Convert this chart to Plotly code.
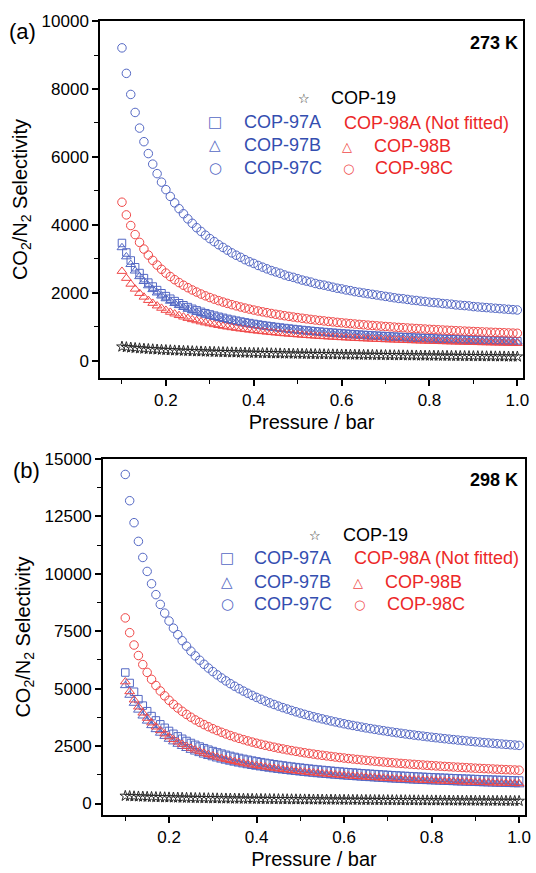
import plotly.graph_objects as go

# pressure grid (bar)
pressure = [0.10, 0.11, 0.12, 0.13, 0.14, 0.15, 0.16, 0.17, 0.18, 0.19,
            0.20, 0.21, 0.22, 0.23, 0.24, 0.25, 0.26, 0.27, 0.28, 0.29,
            0.30, 0.31, 0.32, 0.33, 0.34, 0.35, 0.36, 0.37, 0.38, 0.39,
            0.40, 0.41, 0.42, 0.43, 0.44, 0.45, 0.46, 0.47, 0.48, 0.49,
            0.50, 0.51, 0.52, 0.53, 0.54, 0.55, 0.56, 0.57, 0.58, 0.59,
            0.60, 0.61, 0.62, 0.63, 0.64, 0.65, 0.66, 0.67, 0.68, 0.69,
            0.70, 0.71, 0.72, 0.73, 0.74, 0.75, 0.76, 0.77, 0.78, 0.79,
            0.80, 0.81, 0.82, 0.83, 0.84, 0.85, 0.86, 0.87, 0.88, 0.89,
            0.90, 0.91, 0.92, 0.93, 0.94, 0.95, 0.96, 0.97, 0.98, 0.99,
            1.00]

# ---- 273 K ----
cop19_273 = [420, 405, 392, 380, 369, 359, 350, 342, 334, 327,
             320, 314, 308, 302, 297, 292, 287, 282, 278, 274,
             270, 266, 262, 258, 255, 252, 248, 245, 242, 239,
             236, 233, 230, 228, 225, 222, 220, 217, 215, 212,
             210, 208, 205, 203, 201, 199, 197, 195, 193, 191,
             189, 187, 185, 183, 181, 179, 178, 176, 174, 172,
             171, 169, 167, 166, 164, 162, 161, 159, 158, 156,
             155, 153, 152, 150, 149, 147, 146, 144, 143, 141,
             140, 139, 137, 136, 135, 133, 132, 131, 129, 128,
             127]
cop97a_273 = [3471, 3191, 2956, 2757, 2586, 2437, 2305, 2189, 2085, 1992,
              1908, 1831, 1762, 1698, 1639, 1585, 1535, 1489, 1446, 1405,
              1368, 1333, 1300, 1269, 1239, 1211, 1185, 1160, 1136, 1114,
              1092, 1072, 1053, 1034, 1017, 999, 983, 968, 953, 939,
              925, 911, 898, 886, 874, 863, 852, 841, 831, 821,
              811, 802, 793, 784, 775, 767, 759, 751, 744, 737,
              729, 723, 716, 709, 703, 696, 690, 684, 679, 673,
              667, 662, 657, 652, 647, 642, 637, 633, 628, 624,
              619, 615, 610, 607, 603, 598, 595, 591, 587, 584,
              580]
cop97b_273 = [3336, 3067, 2841, 2650, 2485, 2342, 2216, 2104, 2004, 1915,
              1834, 1761, 1694, 1633, 1577, 1525, 1477, 1433, 1391, 1352,
              1316, 1283, 1251, 1221, 1193, 1166, 1141, 1117, 1094, 1072,
              1052, 1032, 1014, 996, 979, 962, 947, 932, 918, 904,
              891, 878, 866, 854, 842, 831, 821, 811, 801, 791,
              782, 773, 764, 756, 748, 740, 732, 725, 717, 710,
              703, 697, 690, 684, 678, 672, 666, 660, 655, 649,
              644, 639, 634, 629, 624, 619, 615, 610, 606, 602,
              597, 593, 589, 586, 582, 578, 574, 570, 567, 564,
              560]
cop97c_273 = [9210, 8460, 7840, 7310, 6850, 6450, 6100, 5790, 5510, 5260,
              5040, 4840, 4650, 4480, 4330, 4180, 4050, 3920, 3810, 3700,
              3600, 3510, 3420, 3340, 3260, 3180, 3110, 3050, 2980, 2920,
              2870, 2810, 2760, 2710, 2660, 2620, 2580, 2530, 2490, 2460,
              2420, 2380, 2350, 2320, 2280, 2250, 2230, 2200, 2170, 2140,
              2120, 2090, 2070, 2040, 2020, 2000, 1980, 1960, 1940, 1920,
              1900, 1880, 1860, 1840, 1830, 1810, 1790, 1780, 1760, 1750,
              1730, 1720, 1710, 1690, 1680, 1670, 1650, 1640, 1630, 1620,
              1600, 1590, 1580, 1570, 1560, 1550, 1540, 1530, 1520, 1510,
              1500]
cop98b_273 = [2640, 2435, 2263, 2117, 1991, 1882, 1785, 1700, 1623, 1555,
              1494, 1437, 1387, 1340, 1297, 1257, 1220, 1187, 1155, 1125,
              1098, 1072, 1048, 1025, 1003, 983, 964, 945, 928, 911,
              896, 881, 867, 853, 840, 827, 816, 804, 793, 783,
              773, 763, 753, 744, 736, 727, 719, 711, 704, 697,
              689, 683, 676, 670, 663, 657, 651, 646, 640, 635,
              629, 625, 620, 615, 610, 605, 601, 596, 592, 588,
              584, 580, 576, 573, 569, 565, 562, 559, 555, 552,
              549, 546, 542, 540, 537, 533, 531, 528, 525, 523,
              520]
cop98c_273 = [4670, 4297, 3984, 3718, 3489, 3291, 3115, 2960, 2821, 2697,
              2585, 2483, 2391, 2306, 2228, 2156, 2089, 2027, 1969, 1916,
              1866, 1819, 1775, 1733, 1694, 1657, 1622, 1588, 1557, 1527,
              1498, 1471, 1445, 1421, 1397, 1374, 1353, 1332, 1312, 1293,
              1275, 1257, 1240, 1223, 1207, 1192, 1178, 1163, 1150, 1136,
              1123, 1111, 1099, 1087, 1076, 1065, 1054, 1044, 1034, 1024,
              1014, 1005, 996, 987, 979, 970, 962, 954, 947, 939,
              932, 925, 918, 911, 904, 898, 891, 885, 879, 873,
              867, 862, 856, 851, 845, 840, 835, 830, 825, 820,
              815]

# ---- 298 K ----
cop19_298 = [330, 320, 311, 303, 296, 289, 283, 277, 272, 267,
             262, 257, 253, 249, 245, 241, 237, 234, 230, 227,
             224, 221, 218, 215, 212, 210, 207, 205, 202, 200,
             197, 195, 193, 191, 189, 187, 185, 183, 181, 179,
             177, 175, 173, 171, 170, 168, 166, 165, 163, 161,
             160, 158, 157, 155, 154, 152, 151, 149, 148, 146,
             145, 144, 142, 141, 140, 138, 137, 136, 134, 133,
             132, 131, 129, 128, 127, 126, 125, 123, 122, 121,
             120, 119, 118, 117, 116, 115, 114, 113, 112, 111,
             110]
cop97a_298 = [5703, 5247, 4866, 4542, 4262, 4020, 3806, 3617, 3447, 3296,
              3159, 3035, 2922, 2818, 2723, 2635, 2554, 2479, 2408, 2343,
              2282, 2224, 2171, 2120, 2072, 2027, 1984, 1943, 1905, 1868,
              1833, 1800, 1769, 1739, 1710, 1682, 1656, 1631, 1606, 1583,
              1561, 1539, 1518, 1498, 1478, 1460, 1442, 1425, 1408, 1392,
              1376, 1361, 1346, 1332, 1318, 1304, 1292, 1279, 1267, 1255,
              1243, 1232, 1221, 1210, 1199, 1189, 1179, 1170, 1160, 1151,
              1142, 1134, 1125, 1117, 1109, 1101, 1093, 1085, 1078, 1071,
              1063, 1057, 1049, 1043, 1037, 1030, 1024, 1018, 1012, 1006,
              1000]
cop97b_298 = [5138, 4719, 4369, 4071, 3815, 3593, 3396, 3222, 3067, 2928,
              2802, 2688, 2585, 2489, 2402, 2321, 2246, 2177, 2112, 2053,
              1997, 1944, 1895, 1848, 1804, 1762, 1723, 1686, 1650, 1617,
              1585, 1555, 1526, 1498, 1472, 1446, 1422, 1399, 1377, 1355,
              1335, 1314, 1295, 1277, 1259, 1242, 1226, 1210, 1195, 1180,
              1165, 1151, 1138, 1125, 1112, 1099, 1088, 1076, 1065, 1054,
              1043, 1033, 1023, 1013, 1003, 994, 985, 976, 967, 959,
              950, 943, 935, 927, 920, 912, 905, 898, 892, 885,
              878, 872, 865, 860, 854, 847, 842, 836, 831, 826,
              820]
cop97c_298 = [14326, 13183, 12226, 11413, 10712, 10105, 9568, 9094, 8668, 8289,
              7946, 7634, 7351, 7091, 6852, 6632, 6427, 6239, 6061, 5898,
              5745, 5601, 5466, 5339, 5218, 5105, 4998, 4895, 4799, 4707,
              4620, 4537, 4458, 4383, 4311, 4241, 4175, 4112, 4051, 3993,
              3936, 3881, 3829, 3778, 3730, 3684, 3639, 3595, 3554, 3512,
              3472, 3434, 3398, 3362, 3327, 3293, 3261, 3229, 3199, 3170,
              3139, 3111, 3084, 3056, 3030, 3004, 2980, 2955, 2932, 2909,
              2886, 2865, 2844, 2822, 2802, 2782, 2763, 2744, 2726, 2707,
              2689, 2672, 2654, 2639, 2622, 2605, 2590, 2574, 2559, 2545,
              2530]
cop98b_298 = [5303, 4874, 4514, 4208, 3945, 3717, 3515, 3337, 3177, 3034,
              2906, 2788, 2682, 2584, 2494, 2412, 2335, 2264, 2197, 2136,
              2078, 2024, 1973, 1926, 1880, 1838, 1797, 1759, 1723, 1688,
              1655, 1624, 1595, 1566, 1539, 1513, 1488, 1465, 1442, 1420,
              1398, 1378, 1358, 1339, 1321, 1304, 1287, 1270, 1255, 1239,
              1224, 1210, 1196, 1183, 1170, 1157, 1145, 1133, 1121, 1110,
              1099, 1089, 1078, 1068, 1058, 1048, 1039, 1030, 1021, 1013,
              1004, 996, 988, 980, 972, 965, 957, 951, 944, 937,
              930, 923, 917, 911, 905, 898, 892, 887, 881, 876,
              870]
cop98c_298 = [8081, 7438, 6900, 6443, 6049, 5708, 5406, 5139, 4900, 4687,
              4494, 4319, 4160, 4014, 3880, 3756, 3640, 3535, 3435, 3343,
              3257, 3176, 3100, 3029, 2961, 2897, 2837, 2780, 2725, 2674,
              2625, 2578, 2534, 2491, 2451, 2411, 2375, 2339, 2305, 2272,
              2240, 2209, 2180, 2152, 2124, 2098, 2074, 2049, 2025, 2002,
              1980, 1958, 1938, 1918, 1898, 1879, 1861, 1843, 1826, 1809,
              1792, 1777, 1761, 1746, 1731, 1717, 1703, 1689, 1676, 1663,
              1650, 1638, 1626, 1614, 1603, 1592, 1581, 1570, 1560, 1550,
              1539, 1530, 1520, 1511, 1502, 1492, 1484, 1475, 1466, 1459,
              1450]

BLUE = "rgb(84,104,196)"
RED = "rgb(240,72,72)"
BLUE_TXT = "rgb(52,78,176)"
RED_TXT = "rgb(236,40,40)"
STAR = "rgb(40,40,40)"
FONT = "Liberation Sans, Arial, sans-serif"

W, H = 536, 873
ML, MR, MT, MB = 100, 5, 21, 58
PW = W - ML - MR
PH = H - MT - MB


def px(x):
    return (x - ML) / PW


def py(y):
    return (H - MB - y) / PH


fig = go.Figure()

series = [
    ("COP-19", "star-open", STAR, 8, cop19_273, cop19_298),
    ("COP-97A", "square-open", BLUE, 7.5, cop97a_273, cop97a_298),
    ("COP-97B", "triangle-up-open", BLUE, 8.5, cop97b_273, cop97b_298),
    ("COP-98B", "triangle-up-open", RED, 8.5, cop98b_273, cop98b_298),
    ("COP-98C", "circle-open", RED, 8.5, cop98c_273, cop98c_298),
    ("COP-97C", "circle-open", BLUE, 8.5, cop97c_273, cop97c_298),
]

for name, sym, col, size, v273, v298 in series:
    for vals, xa, ya in [(v273, "x", "y"), (v298, "x2", "y2")]:
        fig.add_trace(go.Scatter(
            x=pressure, y=vals, mode="markers", name=name,
            xaxis=xa, yaxis=ya,
            marker=dict(symbol=sym, size=size, color=col,
                        line=dict(color=col, width=1)),
        ))

axis_common = dict(
    showline=True, linecolor="black", linewidth=1.5, mirror=True,
    ticks="outside", ticklen=6, tickwidth=1.5, tickcolor="black",
    showgrid=False, zeroline=False,
    tickfont=dict(family=FONT, size=17, color="black"),
)
minor_x = dict(dtick=0.1, tick0=0.1, ticks="outside", ticklen=4,
               tickcolor="black", tickwidth=1.2)
ytitle = dict(text="CO<sub>2</sub>/N<sub>2</sub> Selectivity",
              standoff=9, font=dict(family=FONT, size=20))
xtitle = dict(text="Pressure / bar", standoff=6, font=dict(family=FONT, size=20))

fig.update_layout(
    width=W, height=H,
    margin=dict(l=ML, r=MR, t=MT, b=MB),
    paper_bgcolor="white", plot_bgcolor="white",
    showlegend=False, hovermode=False,
    font=dict(family=FONT, color="black"),
    xaxis=dict(axis_common, domain=[0, 0.9954], anchor="y",
               range=[0.05, 1.013], tick0=0.2, dtick=0.2, tickformat=".1f",
               minor=minor_x, title=xtitle),
    yaxis=dict(axis_common, domain=[0.5504, 1], anchor="x",
               range=[-500, 10000], tick0=0, dtick=2000, tickformat="d",
               minor=dict(dtick=1000, ticks="outside", ticklen=4,
                          tickcolor="black", tickwidth=1.2),
               title=ytitle),
    xaxis2=dict(axis_common, domain=[0.007, 1], anchor="y2",
                range=[0.049, 1.0135], tick0=0.2, dtick=0.2, tickformat=".1f",
                minor=minor_x, title=xtitle),
    yaxis2=dict(axis_common, domain=[0, 0.4484], anchor="x2",
                range=[-500, 15000], tick0=0, dtick=2500, tickformat="d",
                minor=dict(dtick=1250, ticks="outside", ticklen=4,
                           tickcolor="black", tickwidth=1.2),
                title=ytitle),
)


def note(x, y, text, color="black", size=18, anchor="left"):
    fig.add_annotation(x=px(x), y=py(y), xref="paper", yref="paper",
                       text=text, showarrow=False, xanchor=anchor,
                       yanchor="middle",
                       font=dict(family=FONT, size=size, color=color))


def sym(x, y, glyph, color, size=13):
    fig.add_annotation(x=px(x), y=py(y), xref="paper", yref="paper",
                       text=glyph, showarrow=False, xanchor="center",
                       yanchor="middle",
                       font=dict(family="DejaVu Sans", size=size, color=color))


# panel (a)
note(6, 32, "(a)", size=22)
note(526, 43, "<b>273 K</b>", size=18, anchor="right")
sym(307, 98, "☆", STAR, 13)
note(332, 98, "COP-19")
sym(217, 122, "□", BLUE, 15)
sym(217, 145, "△", BLUE, 15)
sym(217, 168, "○", BLUE, 15)
note(244, 122, "COP-97A", BLUE_TXT)
note(244, 145, "COP-97B", BLUE_TXT)
note(244, 168, "COP-97C", BLUE_TXT)
note(345, 123, "COP-98A (Not fitted)", RED_TXT)
sym(350, 146, "△", RED, 13)
note(376, 146, "COP-98B", RED_TXT)
sym(352, 168, "○", RED, 13)
note(377, 168, "COP-98C", RED_TXT)

# panel (b)
note(10, 470, "(b)", size=22)
note(526, 480, "<b>298 K</b>", size=18, anchor="right")
sym(318, 535, "☆", STAR, 13)
note(344, 535, "COP-19")
sym(229, 558, "□", BLUE, 15)
sym(229, 582, "△", BLUE, 15)
sym(229, 604, "○", BLUE, 15)
note(254, 558, "COP-97A", BLUE_TXT)
note(254, 582, "COP-97B", BLUE_TXT)
note(254, 604, "COP-97C", BLUE_TXT)
note(356, 558, "COP-98A (Not fitted)", RED_TXT)
sym(362, 582, "△", RED, 13)
note(387, 582, "COP-98B", RED_TXT)
sym(363, 604, "○", RED, 13)
note(389, 604, "COP-98C", RED_TXT)

# page body has a default 8px margin; drop it so the figure sits at the origin
fig.write_html("out.html", config={"displayModeBar": False},
               post_script="document.body.style.margin='0';")
